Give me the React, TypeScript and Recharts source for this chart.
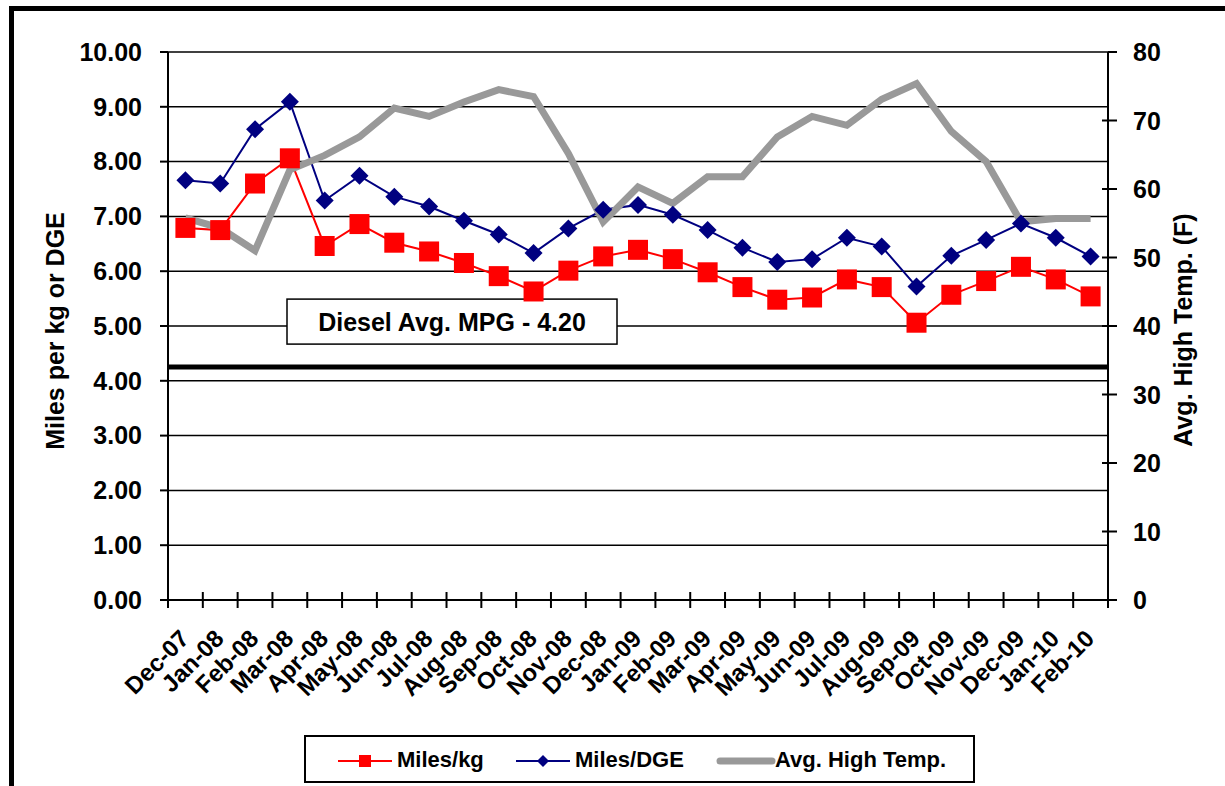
import { LineChart, Line, XAxis, YAxis, CartesianGrid, ReferenceLine } from "recharts";

const months = [
  "Dec-07", "Jan-08", "Feb-08", "Mar-08", "Apr-08", "May-08", "Jun-08", "Jul-08", "Aug-08",
  "Sep-08", "Oct-08", "Nov-08", "Dec-08", "Jan-09", "Feb-09", "Mar-09", "Apr-09", "May-09",
  "Jun-09", "Jul-09", "Aug-09", "Sep-09", "Oct-09", "Nov-09", "Dec-09", "Jan-10", "Feb-10",
];
const milesPerKg = [
  6.79, 6.75, 7.6, 8.06, 6.46, 6.86, 6.52, 6.36, 6.15, 5.91, 5.63, 6.01, 6.27, 6.39,
  6.22, 5.98, 5.71, 5.48, 5.52, 5.85, 5.71, 5.06, 5.57, 5.82, 6.08, 5.85, 5.54,
];
const milesPerDge = [
  7.66, 7.6, 8.59, 9.09, 7.29, 7.74, 7.36, 7.18, 6.92, 6.67, 6.33, 6.78, 7.12, 7.21,
  7.03, 6.75, 6.43, 6.17, 6.22, 6.61, 6.45, 5.72, 6.28, 6.57, 6.87, 6.61, 6.27,
];
const avgHighTemp = [
  55.8, 54.3, 51.0, 62.8, 64.9, 67.6, 71.8, 70.6, 72.7, 74.5, 73.5, 65.2, 55.2, 60.3,
  57.9, 61.8, 61.8, 67.6, 70.6, 69.3, 73.1, 75.4, 68.4, 64.0, 55.2, 55.7, 55.7,
];
const leftTicks = [0, 1, 2, 3, 4, 5, 6, 7, 8, 9, 10];
const rightTicks = [0, 10, 20, 30, 40, 50, 60, 70, 80];
const dieselMpg = 4.25;
const dieselLabel = "Diesel Avg. MPG - 4.20";

const data = months.map((m, i) => ({
  month: m,
  kg: milesPerKg[i],
  dge: milesPerDge[i],
  temp: avgHighTemp[i],
}));

const FONT = '"Liberation Sans", Arial, sans-serif';
const PLOT_LEFT = 168;
const PLOT_RIGHT = 1108;
const BAND = (PLOT_RIGHT - PLOT_LEFT) / months.length;

const XTick = (props: any) => {
  const { x, y, payload, index } = props;
  const half = BAND / 2;
  return (
    <g>
      <line x1={x - half} x2={x - half} y1={y - 8} y2={y + 8} stroke="#000" strokeWidth={2} />
      {index === months.length - 1 && (
        <line x1={x + half} x2={x + half} y1={y - 8} y2={y + 8} stroke="#000" strokeWidth={2} />
      )}
      <text
        transform={`translate(${x + 5},${y + 40}) rotate(-45)`}
        textAnchor="end"
        fontSize={24}
        fontWeight="bold"
        fontFamily={FONT}
        fill="#000"
      >
        {payload.value}
      </text>
    </g>
  );
};

const RightTick = (props: any) => {
  const { x, y, payload, index } = props;
  return (
    <g>
      <line x1={index === rightTicks.length - 1 ? x - 25 : x - 31} x2={x - 16} y1={y} y2={y} stroke="#000" strokeWidth={2} />
      <text x={x} y={y} dominantBaseline="central" fontSize={25} fontWeight="bold" fontFamily={FONT} fill="#000">
        {payload.value}
      </text>
    </g>
  );
};

const AxisTitle = ({ tx, ty, text }: any) => (
  <text
    x={tx}
    y={ty}
    transform={`rotate(-90 ${tx} ${ty})`}
    textAnchor="middle"
    dominantBaseline="central"
    fontSize={25}
    fontWeight="bold"
    fontFamily={FONT}
    fill="#000"
  >
    {text}
  </text>
);

const DieselBox = (props: any) => {
  const vb = props.viewBox || {};
  const vx = vb.x ?? PLOT_LEFT;
  const vy = vb.y ?? 367;
  return (
    <g>
      <rect x={vx + 119} y={vy - 68} width={330} height={45} fill="#fff" stroke="#000" strokeWidth={1.5} />
      <text
        x={vx + 284}
        y={vy - 45}
        textAnchor="middle"
        dominantBaseline="central"
        fontSize={25}
        fontWeight="bold"
        fontFamily={FONT}
        fill="#000"
      >
        {dieselLabel}
      </text>
    </g>
  );
};

const squareDot = (props: any) => {
  const { cx, cy, index } = props;
  return <rect key={`sq-${index}`} x={cx - 10} y={cy - 10} width={20} height={20} fill="#ff0000" />;
};

const diamondDot = (props: any) => {
  const { cx, cy, index } = props;
  const r = 9;
  return (
    <polygon
      key={`dm-${index}`}
      points={`${cx},${cy - r} ${cx + r},${cy} ${cx},${cy + r} ${cx - r},${cy}`}
      fill="#000080"
    />
  );
};

const legendText = { fontFamily: FONT, fontSize: 22, fontWeight: "bold" as const, color: "#000" };

const ChartLegend = () => (
  <div
    style={{
      position: "absolute",
      left: 304,
      top: 735,
      width: 671,
      height: 48,
      boxSizing: "border-box",
      border: "2px solid #000",
      background: "#fff",
    }}
  >
    <svg style={{ position: "absolute", left: 32, top: 14 }} width={56} height={20}>
      <line x1={0} x2={54} y1={10} y2={10} stroke="#ff0000" strokeWidth={2} />
      <rect x={21} y={4} width={12} height={12} fill="#ff0000" />
    </svg>
    <span style={{ ...legendText, position: "absolute", left: 91, top: 10 }}>Miles/kg</span>
    <svg style={{ position: "absolute", left: 210, top: 14 }} width={56} height={20}>
      <line x1={0} x2={54} y1={10} y2={10} stroke="#000080" strokeWidth={2} />
      <polygon points="27,4 33,10 27,16 21,10" fill="#000080" />
    </svg>
    <span style={{ ...legendText, position: "absolute", left: 269, top: 10 }}>Miles/DGE</span>
    <svg style={{ position: "absolute", left: 410, top: 14 }} width={60} height={20}>
      <line x1={4} x2={56} y1={10} y2={10} stroke="#999999" strokeWidth={7} strokeLinecap="round" />
    </svg>
    <span style={{ ...legendText, position: "absolute", left: 469, top: 10 }}>Avg. High Temp.</span>
  </div>
);

export default function App() {
  return (
    <div style={{ position: "fixed", left: 0, top: 0, width: 1225, height: 786, overflow: "hidden", background: "#fff" }}>
      <div
        style={{
          position: "absolute",
          left: 9,
          top: 6,
          width: 1400,
          height: 1000,
          border: "5px solid #000",
        }}
      />
      <div style={{ position: "absolute", left: 0, top: 0 }}>
        <LineChart width={1225} height={786} data={data} margin={{ top: 52, right: 0, bottom: 0, left: 0 }}>
          <CartesianGrid vertical={false} stroke="#000" strokeWidth={1.5} strokeOpacity={1} />
          <XAxis
            dataKey="month"
            scale="band"
            height={186}
            interval={0}
            tickLine={false}
            tickSize={0}
            tickMargin={0}
            axisLine={{ stroke: "#000", strokeWidth: 2 }}
            tick={<XTick />}
          />
          <YAxis
            width={168}
            domain={[0, 10]}
            ticks={leftTicks}
            interval={0}
            tickSize={8}
            tickMargin={18}
            tickLine={{ stroke: "#000", strokeWidth: 2 }}
            axisLine={{ stroke: "#000", strokeWidth: 2 }}
            tickFormatter={(v: number) => v.toFixed(2)}
            tick={{ fill: "#000", fontSize: 25, fontWeight: "bold", fontFamily: FONT }}
            label={<AxisTitle tx={55} ty={331} text="Miles per kg or DGE" />}
          />
          <YAxis
            yAxisId="right"
            orientation="right"
            width={117}
            domain={[0, 80]}
            ticks={rightTicks}
            interval={0}
            tickSize={9}
            tickMargin={16}
            tickLine={false}
            axisLine={{ stroke: "#000", strokeWidth: 2 }}
            tick={<RightTick />}
            label={<AxisTitle tx={1183} ty={330} text="Avg. High Temp. (F)" />}
          />
          <Line
            type="linear"
            dataKey="kg"
            name="Miles/kg"
            stroke="#ff0000"
            strokeWidth={2}
            dot={squareDot}
            activeDot={false}
            isAnimationActive={false}
          />
          <Line
            type="linear"
            dataKey="dge"
            name="Miles/DGE"
            stroke="#000080"
            strokeWidth={2}
            dot={diamondDot}
            activeDot={false}
            isAnimationActive={false}
          />
          <Line
            type="linear"
            dataKey="temp"
            yAxisId="right"
            name="Avg. High Temp."
            stroke="#999999"
            strokeWidth={7}
            dot={false}
            activeDot={false}
            isAnimationActive={false}
          />
          <ReferenceLine y={dieselMpg} stroke="#000" strokeWidth={5} label={<DieselBox />} />
        </LineChart>
      </div>
      <ChartLegend />
    </div>
  );
}
